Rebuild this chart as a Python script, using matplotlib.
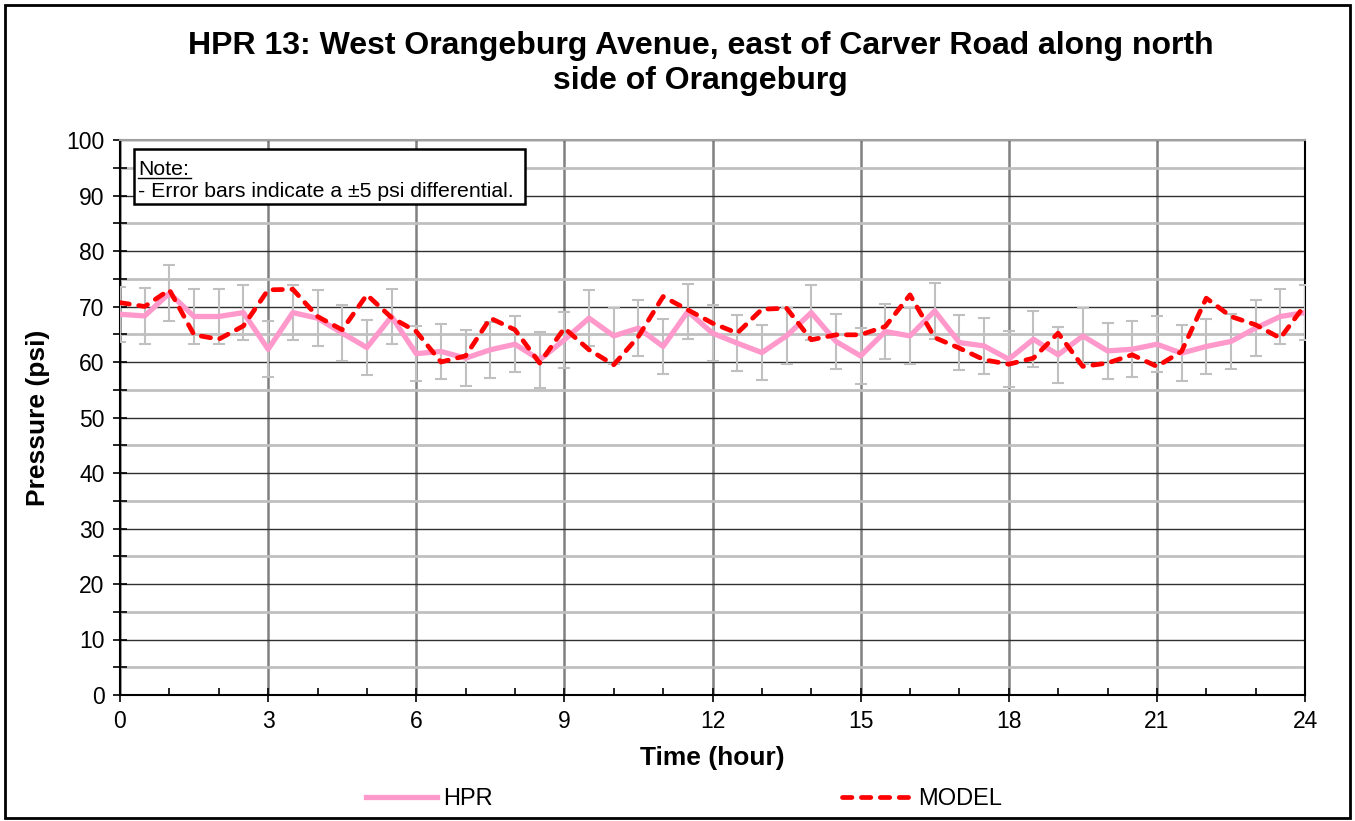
import matplotlib
matplotlib.use("Agg")
import matplotlib.pyplot as plt
from matplotlib.ticker import MultipleLocator
from matplotlib.patches import Rectangle

plt.rcParams['font.family'] = ['Liberation Sans', 'DejaVu Sans']

hours = [i * 0.5 for i in range(49)]
hpr = [68.6, 68.3, 72.4, 68.2, 68.2, 68.9, 62.3, 68.9, 67.9, 65.2, 62.6, 68.2,
       61.5, 61.9, 60.7, 62.2, 63.2, 60.4, 64.0, 67.9, 64.7, 66.1, 62.8, 69.1,
       65.2, 63.4, 61.7, 64.7, 68.9, 63.7, 61.1, 65.5, 64.7, 69.2, 63.5, 62.9,
       60.5, 64.1, 61.3, 64.7, 62.0, 62.3, 63.2, 61.6, 62.8, 63.7, 66.1, 68.2, 68.9]
model = [70.7, 70.0, 73.0, 64.9, 64.1, 66.5, 73.0, 73.1, 68.2, 65.8, 72.1, 68.0,
         65.5, 60.0, 61.1, 67.9, 65.8, 59.8, 66.1, 62.2, 59.5, 64.6, 71.8, 69.4,
         67.0, 65.2, 69.5, 69.7, 64.0, 64.9, 64.9, 66.4, 72.1, 64.4, 62.5, 60.4,
         59.6, 60.7, 65.2, 59.2, 59.8, 61.3, 59.2, 61.9, 71.5, 68.2, 66.7, 64.3, 70.3]
err = 5

title = "HPR 13: West Orangeburg Avenue, east of Carver Road along north\nside of Orangeburg"

fig = plt.figure(figsize=(13.55, 8.21), dpi=100)
ax = fig.add_axes([120 / 1355, 1 - 695 / 821, 1185 / 1355, 555 / 821])

ax.errorbar(hours, hpr, yerr=err, fmt='none', ecolor='#c0c0c0', elinewidth=1.5,
            capsize=4.5, capthick=1.5, zorder=3)
ax.plot(hours, hpr, color='#ff99cc', lw=3.8, label='HPR', zorder=4,
        solid_joinstyle='round')
ax.plot(hours, model, color='#ff0000', lw=3.4, linestyle=(0, (2, 2)),
        dash_capstyle='round', label='MODEL', zorder=5)

ax.set_xlim(0, 24)
ax.set_ylim(0, 100)
ax.xaxis.set_major_locator(MultipleLocator(3))
ax.xaxis.set_minor_locator(MultipleLocator(1))
ax.yaxis.set_major_locator(MultipleLocator(10))
ax.yaxis.set_minor_locator(MultipleLocator(5))

ax.grid(which='major', axis='y', color='#303030', lw=1.0, zorder=1)
ax.grid(which='minor', axis='y', color='#c0c0c0', lw=2.0, zorder=1)
ax.grid(which='major', axis='x', color='#808080', lw=1.8, zorder=1)

ax.tick_params(axis='both', which='major', labelsize=16.5, direction='inout',
               length=10, width=1.2, color='black', pad=6)
ax.tick_params(axis='y', which='minor', direction='inout', length=10, width=1.2)
ax.tick_params(axis='x', which='minor', direction='in', length=5, width=1.2)

for s in ['left', 'bottom', 'right']:
    ax.spines[s].set_color('black')
    ax.spines[s].set_linewidth(1.5)
ax.spines['top'].set_color('#a0a0a0')
ax.spines['top'].set_linewidth(1.5)

ax.set_xlabel('Time (hour)', fontsize=19, fontweight='bold', labelpad=9)
ax.set_ylabel('Pressure (psi)', fontsize=19, fontweight='bold', labelpad=12)

fig.suptitle(title, fontsize=23, fontweight='bold', x=0.517, y=0.962, va='top',
             linespacing=1.2)

# Note box
ax.text(0.0152, 0.9369, 'Note:', transform=ax.transAxes, fontsize=15.3,
        va='baseline', ha='left', zorder=7)
ax.text(0.0152, 0.8973, '- Error bars indicate a \u00b15 psi differential.',
        transform=ax.transAxes, fontsize=15.3, va='baseline', ha='left', zorder=7)
ax.plot([0.0155, 0.0595], [0.9315, 0.9315], transform=ax.transAxes, color='black',
        lw=1.0, zorder=7)
ax.add_patch(Rectangle((0.0118, 0.8847), 0.330, 0.0991, transform=ax.transAxes,
                       facecolor='white', edgecolor='black', lw=1.8, zorder=6))

fig.legend(loc='center', bbox_to_anchor=(0.505, 0.027), ncol=2, frameon=False,
           fontsize=17, handlelength=3.0, columnspacing=14.8, handletextpad=0.25)

fig.add_artist(Rectangle((0.004, 0.004), 0.992, 0.99, transform=fig.transFigure,
                         fill=False, edgecolor='black', lw=2))

fig.savefig('out.png', dpi=100)
